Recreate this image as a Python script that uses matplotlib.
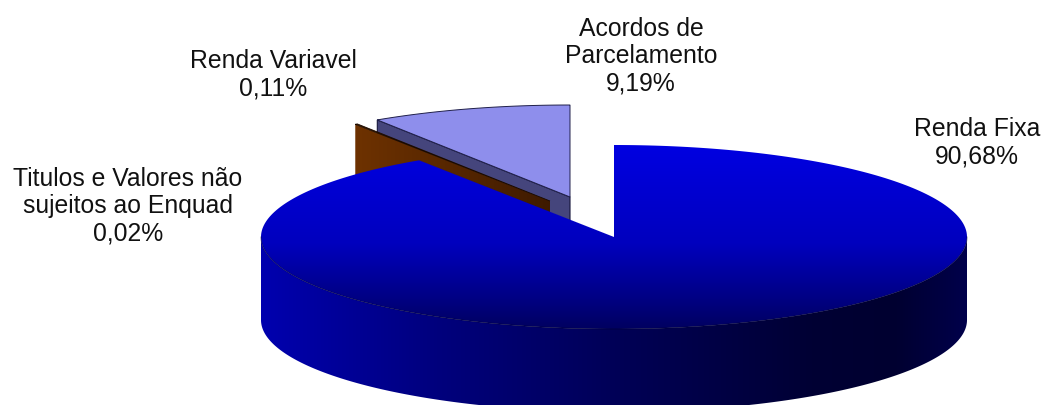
import numpy as np
import matplotlib
matplotlib.use("Agg")
import matplotlib.pyplot as plt
from matplotlib.patches import Polygon

plt.rcParams['font.family'] = ['Liberation Sans', 'DejaVu Sans']

# order is clockwise from 12 o'clock
labels = ["Renda Fixa", "Titulos e Valores não\nsujeitos ao Enquad", "Renda Variavel", "Acordos de\nParcelamento"]
shares = [90.68, 0.02, 0.11, 9.19]
share_text = ["90,68%", "0,02%", "0,11%", "9,19%"]

# layout of the fake 3d pie, all in pixels
CX, CY = 614, 237
RX, RY = 353, 92
DEPTH = 83
offsets = [(0, 0), (0, 0), (-64, -36), (-44, -40)]
label_pos = [(977, 143), (128, 206), (273, 75), (641, 56)]


def rim(start, end, ox=0, oy=0, n=300):
    # points on the top ellipse, angle in degrees clockwise from top
    t = np.radians(np.linspace(start, end, n))
    return np.column_stack([CX + ox + RX * np.sin(t), CY + oy - RY * np.cos(t)])


def gradient(ax, clip, stops, vertical):
    # stops are (position 0-1 across the figure, r, g, b)
    pos = np.linspace(0, 1, 512)
    px = [s[0] for s in stops]
    img = np.column_stack([np.interp(pos, px, [s[i] for s in stops]) for i in (1, 2, 3)]) / 255
    img = img[:, None, :] if vertical else img[None, :, :]
    im = ax.imshow(img, extent=[0, 1041, 405, 0], aspect='auto', zorder=clip.get_zorder(),
                   interpolation='bilinear')
    im.set_clip_path(clip)


fig = plt.figure(figsize=(10.41, 4.05), dpi=100)
ax = fig.add_axes([0, 0, 1, 1])

edges = np.cumsum([0] + shares) * 3.6

# Acordos slice, pulled out behind the main slice
s, e = edges[3], edges[4]
ox, oy = offsets[3]
apex = (CX + ox, CY + oy)
arc = rim(s, e, ox, oy)
side = [arc[0], apex, (apex[0], apex[1] + DEPTH), (arc[0][0], arc[0][1] + DEPTH)]
ax.add_patch(Polygon(side, fc='#45457c', ec='#15153a', lw=0.8, zorder=2))
ax.add_patch(Polygon(np.vstack([arc, apex]), fc='#8e8eec', ec='#20204a', lw=0.7, zorder=3))

# Renda Variavel slice
s, e = edges[2], edges[3]
ox, oy = offsets[2]
apex = (CX + ox, CY + oy)
arc = rim(s, e, ox, oy)
side = [arc[0], apex, (apex[0], apex[1] + DEPTH), (arc[0][0], arc[0][1] + DEPTH)]
brown = Polygon(side, fc='none', ec='none', zorder=4)
ax.add_patch(brown)
# brown gets darker towards the centre
gradient(ax, brown, [(0, 110, 50, 0), (0.34, 110, 50, 0), (0.53, 62, 26, 0), (1, 62, 26, 0)], False)
ax.add_patch(Polygon(np.vstack([arc, apex]), fc='#6a3000', ec='#1a0a00', lw=0.6, zorder=4.2))

# Titulos slice is too thin to show, it sits on the main slice edge
s, e = edges[1], edges[2]
ax.add_patch(Polygon(np.vstack([rim(s, e), (CX, CY)]), fc='#0000c8', ec='none', zorder=4.5))

# Renda Fixa wall: front half of the ellipse shifted down
front = rim(90, 270)
wall_pts = np.vstack([front, (front + [0, DEPTH])[::-1]])
wall = Polygon(wall_pts, fc='none', ec='none', zorder=5)
ax.add_patch(wall)
gradient(ax, wall, [(0, 0, 0, 175), (0.25, 0, 0, 175), (0.42, 0, 0, 125), (0.6, 0, 0, 85),
                    (0.78, 0, 0, 52), (0.86, 0, 0, 48), (0.93, 0, 0, 75), (1, 0, 0, 75)], False)

# Renda Fixa top face
s, e = edges[0], edges[1]
top_pts = np.vstack([rim(s, e), (CX, CY)])
top = Polygon(top_pts, fc='none', ec='none', zorder=6)
ax.add_patch(top)
gradient(ax, top, [(0, 0, 0, 225), (0.36, 0, 0, 225), (0.6, 0, 0, 190), (0.74, 0, 0, 130),
                   (0.82, 0, 0, 92), (1, 0, 0, 92)], True)
ax.plot(front[:, 0], front[:, 1], color='#00002c', lw=0.7, alpha=0.5, zorder=6.5)

for name, pct, (x, y) in zip(labels, share_text, label_pos):
    ax.text(x, y, name + "\n" + pct, ha='center', va='center', fontsize=17.8,
            color='#111111', linespacing=1.17, zorder=8)

ax.set_xlim(0, 1041)
ax.set_ylim(405, 0)
ax.axis('off')
fig.savefig("out.png", dpi=100)
